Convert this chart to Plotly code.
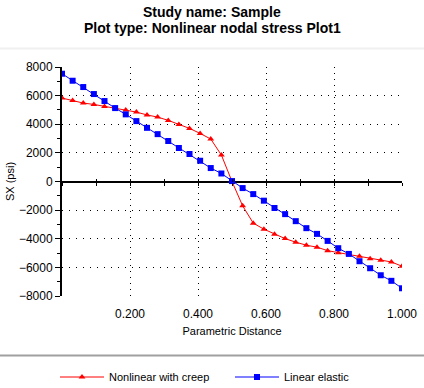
import plotly.graph_objects as go

# Parametric distance positions (33 nodes)
distance = [i / 32 for i in range(33)]

# SX (psi) values
nonlinear_creep = [5830, 5660, 5480, 5385, 5245, 5130, 4990, 4850, 4650, 4500,
                   4270, 3990, 3710, 3360, 2965, 1850, 0, -1700, -2910, -3330,
                   -3680, -3990, -4240, -4450, -4590, -4830, -4970, -5100,
                   -5220, -5400, -5500, -5620, -5920]
linear_elastic = [7530, 7040, 6600, 6110, 5620, 5130, 4690, 4220, 3750, 3310,
                  2830, 2340, 1920, 1450, 940, 560, 30, -460, -880, -1340,
                  -1850, -2280, -2770, -3260, -3660, -4150, -4660, -5060,
                  -5570, -6060, -6550, -6940, -7460]

series_names = ["Nonlinear with creep", "Linear elastic"]
title_lines = ["Study name: Sample", "Plot type: Nonlinear nodal stress Plot1"]
x_tickvals = [0.2, 0.4, 0.6, 0.8, 1.0]
x_ticktext = ["0.200", "0.400", "0.600", "0.800", "1.000"]
y_tickvals = [-8000, -6000, -4000, -2000, 0, 2000, 4000, 6000, 8000]

FONT = "Liberation Sans, Arial, sans-serif"

fig = go.Figure()
fig.add_trace(go.Scatter(
    x=distance, y=nonlinear_creep, name=series_names[0], mode="lines+markers",
    line=dict(color="#ff0000", width=1),
    marker=dict(symbol="triangle-up", size=6, color="#ff0000"),
    legend="legend",
))
fig.add_trace(go.Scatter(
    x=distance, y=linear_elastic, name=series_names[1], mode="lines+markers",
    line=dict(color="#0000ff", width=1),
    marker=dict(symbol="square", size=6, color="#0000ff"),
    legend="legend2",
))

L, R, T, B = 62, 22, 67, 92
W, H = 424, 388
pw, ph = W - L - R, H - T - B

def px_to_paper_x(px):
    return (px - L) / pw

def px_to_paper_y(py):
    return (H - B - py) / ph

legend_common = dict(
    orientation="h", xref="container", yref="container",
    xanchor="left", yanchor="middle", y=1 - 377 / H,
    font=dict(size=11), bgcolor="rgba(0,0,0,0)", itemwidth=44,
)

fig.update_layout(
    width=W, height=H, autosize=False,
    margin=dict(l=L, r=R, t=T, b=B, autoexpand=False),
    paper_bgcolor="white", plot_bgcolor="white",
    font=dict(family=FONT, size=11, color="black"),
    xaxis=dict(
        range=[0, 1], showline=False, zeroline=False, automargin=False,
        tickvals=x_tickvals, ticktext=x_ticktext, ticks="",
        ticklabelstandoff=9,
        tickfont=dict(size=12),
        showgrid=True, gridcolor="black", gridwidth=1, griddash="1px,5px",
        title=dict(text="Parametric Distance", font=dict(size=11), standoff=7),
    ),
    xaxis2=dict(
        range=[0, 1], overlaying="x", anchor="free", position=0.5,
        showline=False, zeroline=False, showgrid=False, automargin=False,
        dtick=0.1, tick0=0, ticks="outside", ticklen=3, tickwidth=1,
        tickcolor="black", showticklabels=False,
    ),
    xaxis3=dict(
        range=[0, 1], overlaying="x", anchor="free", position=0.5,
        showline=False, zeroline=False, showgrid=False, automargin=False,
        dtick=0.1, tick0=0, ticks="inside", ticklen=3, tickwidth=1,
        tickcolor="black", showticklabels=False,
    ),
    yaxis=dict(
        range=[-8000, 8000], showline=True, linecolor="black", linewidth=2,
        zeroline=True, zerolinecolor="black", zerolinewidth=2,
        automargin=False,
        tickvals=y_tickvals, ticks="outside", ticklen=5, tickwidth=1,
        tickcolor="black", tickfont=dict(size=12),
        minor=dict(dtick=1000, tick0=0, ticks="outside", ticklen=3,
                   tickcolor="black", showgrid=False),
        showgrid=True, gridcolor="black", gridwidth=1, griddash="1px,6px",
        title=dict(text="SX (psi)", font=dict(size=11), standoff=2),
    ),
    showlegend=True,
    legend=dict(x=55 / W, **legend_common),
    legend2=dict(x=230 / W, **legend_common),
    annotations=[
        dict(text=title_lines[0], xref="paper", yref="paper",
             x=0.5 * W / pw - L / pw, y=px_to_paper_y(12),
             xanchor="center", yanchor="middle", showarrow=False,
             font=dict(family=FONT, size=14, color="black", weight="bold")),
        dict(text=title_lines[1], xref="paper", yref="paper",
             x=0.5 * W / pw - L / pw, y=px_to_paper_y(28),
             xanchor="center", yanchor="middle", showarrow=False,
             font=dict(family=FONT, size=14, color="black", weight="bold")),
    ],
    shapes=[
        dict(type="line", xref="paper", yref="paper",
             x0=px_to_paper_x(0), x1=px_to_paper_x(W),
             y0=px_to_paper_y(355.5), y1=px_to_paper_y(355.5),
             line=dict(color="#a0a0a0", width=2)),
        dict(type="line", xref="paper", yref="paper",
             x0=px_to_paper_x(0), x1=px_to_paper_x(W),
             y0=px_to_paper_y(48.5), y1=px_to_paper_y(48.5),
             line=dict(color="#f0f0f0", width=2)),
    ],
)

# invisible traces so the overlay tick axes render
for ax in ["x2", "x3"]:
    fig.add_trace(go.Scatter(x=[0, 1], y=[0, 0], xaxis=ax, mode="markers",
                             marker=dict(opacity=0), showlegend=False,
                             hoverinfo="skip"))

fig.write_html(
    "out.html",
    config={"displayModeBar": False},
    post_script="document.body.style.margin='0';document.body.style.padding='0';",
)
